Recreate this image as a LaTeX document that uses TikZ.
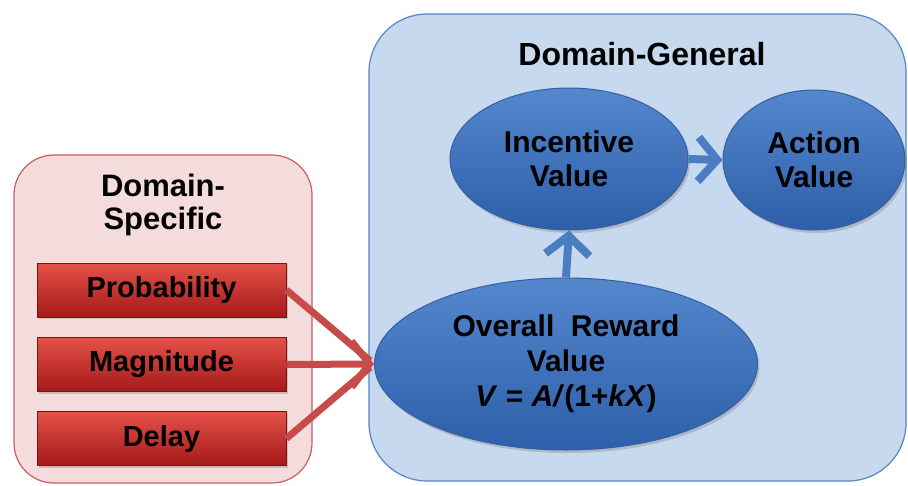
\documentclass[tikz,border=0pt]{standalone}
\usepackage{fontspec}
\setmainfont{Liberation Sans}
\usetikzlibrary{shapes.geometric,arrows.meta,shadows}
\definecolor{redpanelfill}{RGB}{245,220,220}
\definecolor{redpaneldraw}{RGB}{200,95,95}
\definecolor{bluepanelfill}{RGB}{198,217,238}
\definecolor{bluepaneldraw}{RGB}{85,135,195}
\definecolor{elltop}{RGB}{85,135,205}
\definecolor{ellbot}{RGB}{45,95,170}
\definecolor{elldraw}{RGB}{55,95,160}
\definecolor{boxtop}{RGB}{228,82,72}
\definecolor{boxbot}{RGB}{165,25,25}
\definecolor{boxdraw}{RGB}{125,20,20}
\definecolor{redarrow}{RGB}{200,75,75}
\definecolor{bluearrow}{RGB}{75,125,195}
\begin{document}
\begin{tikzpicture}[x=1pt,y=-1pt,
  txt/.style={font=\fontsize{30}{34}\selectfont\bfseries, text=black, align=center},
  panel/.style={rectangle, line width=1.2pt, inner sep=0pt},
  redpanel/.style={panel, fill=redpanelfill, draw=redpaneldraw, rounded corners=40pt},
  bluepanel/.style={panel, fill=bluepanelfill, draw=bluepaneldraw, rounded corners=58pt},
  redbox/.style={rectangle, txt, font=\fontsize{29}{34}\selectfont\bfseries, top color=boxtop, bottom color=boxbot, draw=boxdraw, line width=0.8pt,
     minimum width=249pt, minimum height=54pt, inner sep=0pt,
     drop shadow={opacity=0.35, shadow xshift=2pt, shadow yshift=-2pt}},
  oval/.style={ellipse, txt, top color=elltop, bottom color=ellbot, draw=elldraw, line width=1pt, inner sep=0pt,
     drop shadow={opacity=0.35, shadow xshift=2pt, shadow yshift=-3pt}},
  redline/.style={draw=redarrow, line width=7pt, shorten >=5pt},
  redarr/.style={draw=redarrow, line width=7pt, -{Straight Barb[length=18pt, width=46pt]}},
  bluearr/.style={draw=bluearrow, line width=8pt, -{Straight Barb[length=19pt, width=44pt]}}
]
\useasboundingbox (0,0) rectangle (908,485);
\fill[white] (0,0) rectangle (908,485);

% panels
\node[redpanel, minimum width=298pt, minimum height=328pt] (dspanel) at (163,319) {};
\node[bluepanel, minimum width=537pt, minimum height=467pt] (dgpanel) at (637.5,247.5) {};

% titles
\node[txt, font=\fontsize{31}{33}\selectfont\bfseries] (dstitle) at (163,205) {Domain-\\Specific};
\node[txt, font=\fontsize{32}{33}\selectfont\bfseries] (dgtitle) at (642,54) {Domain-General};

% red boxes
\node[redbox] (prob) at (161.5,290) {Probability};
\node[redbox] (magn) at (161.5,364.5) {Magnitude};
\node[redbox] (delay) at (161.5,438.5) {Delay};

% ellipses
\node[oval, minimum width=238pt, minimum height=142pt] (incent) at (569,159) {Incentive\\Value};
\node[oval, minimum width=182pt, minimum height=140pt] (action) at (814,160) {Action\\Value};
\node[oval, minimum width=383pt, minimum height=172pt, font=\fontsize{30}{35}\selectfont\bfseries] (overall) at (566,364)
  {Overall\ \ Reward\\Value\\\textit{V} = \textit{A/}(1+\textit{kX})};

% arrows
\draw[redline] (prob.east) -- (overall.west);
\draw[redline] (delay.east) -- (overall.west);
\draw[redarr] (magn.east) -- (overall.west);
\draw[bluearr] (overall.north) -- (incent.south);
\draw[bluearr] (incent.east) -- (action.west);
\end{tikzpicture}
\end{document}
